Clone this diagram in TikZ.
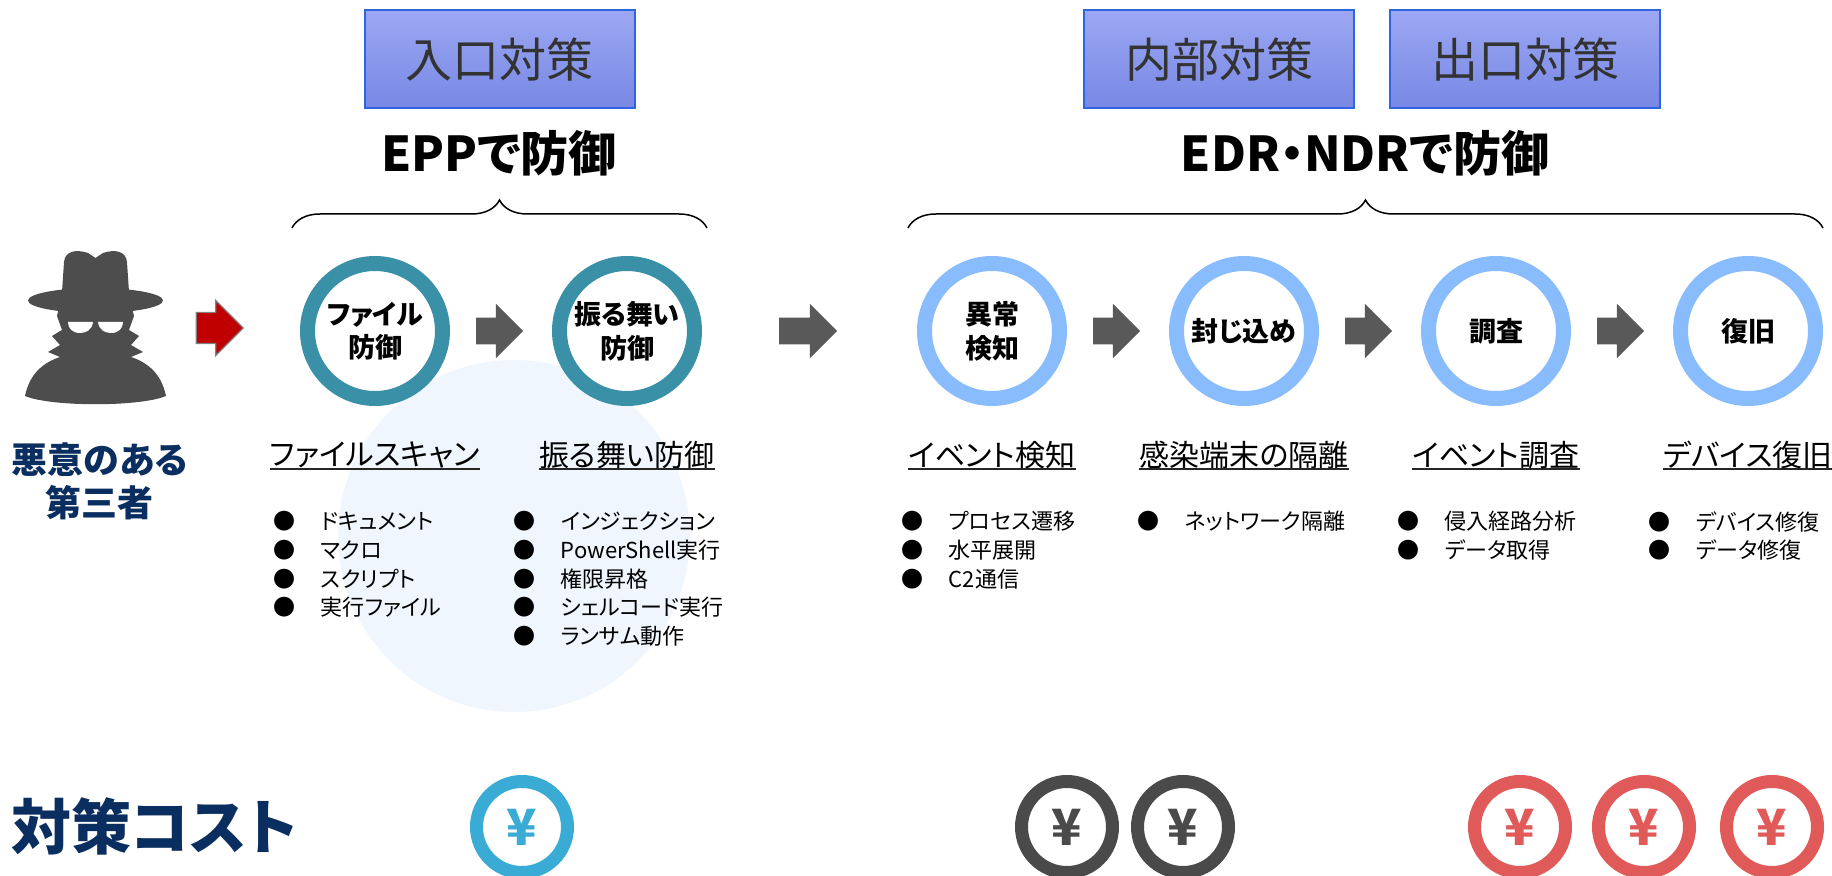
\documentclass[tikz,border=0pt]{standalone}
\usepackage{fontspec}
\setmainfont{Noto Sans CJK JP}[RawFeature=+palt]
\newfontfamily\headfont{Noto Sans CJK JP}
\usepackage{tikz}
\usetikzlibrary{
  arrows.meta,
  positioning,
  calc,
  shapes.arrows,
  decorations.pathreplacing
}
\definecolor{tagtop}{HTML}{9CA8F3}
\definecolor{tagbot}{HTML}{7787E4}
\definecolor{tagline}{HTML}{2F66E0}
\definecolor{tagtext}{HTML}{333333}
\definecolor{epp}{HTML}{3A90A6}
\definecolor{edr}{HTML}{88BCFC}
\definecolor{blob}{HTML}{EFF6FD}
\definecolor{arrgray}{HTML}{595959}
\definecolor{navy}{HTML}{0A2E5F}
\definecolor{spygray}{HTML}{4D4D4D}
\definecolor{alertred}{HTML}{C00000}
\definecolor{costlow}{HTML}{3AABD5}
\definecolor{costmid}{HTML}{4A4A4A}
\definecolor{costhigh}{HTML}{E05A5A}
\newcommand{\itembul}{\makebox[23.75pt][l]{●}}

\begin{document}
\begin{tikzpicture}[x=0.5pt, y=-0.5pt, node distance=126pt,
  tagbox/.style={draw=tagline, line width=1pt, top color=tagtop, bottom color=tagbot,
    minimum width=135pt, minimum height=49pt, inner sep=0pt, text=tagtext,
    font=\headfont\fontsize{23.5}{28}\selectfont},
  headline/.style={inner sep=0pt, font=\bfseries\fontsize{24}{28}\selectfont},
  brace/.style={decorate, decoration={brace, amplitude=14pt}, line width=0.75pt},
  ring/.style={circle, draw, line width=7.5pt, fill=white, minimum size=67.5pt,
    inner sep=0pt, align=center, font=\bfseries\fontsize{13.5}{16.85}\selectfont},
  blockarr/.style={single arrow, fill=arrgray, minimum height=23.5pt, xshift=-4pt,
    single arrow head extend=7pt, inner xsep=0pt, inner ysep=6.5pt},
  lbl/.style={inner sep=0pt, font=\fontsize{15}{18}\selectfont},
  uline/.style={line width=1pt, black!85},
  items/.style={inner sep=0pt, anchor=north west, align=left, font=\fontsize{11}{14.35}\selectfont},
  coin/.style={circle, line width=6.5pt, minimum size=45.5pt, inner sep=0pt, fill=white,
    font=\bfseries\fontsize{25}{25}\selectfont}]
\useasboundingbox (0,0) rectangle (1832,876);

\fill[blob] (514,536) circle (88pt);

\node[tagbox] (T1) at (499.5,59.5) {入口対策};
\node[tagbox] (T2) at (1219,59.5) {内部対策};
\node[tagbox] (T3) at (1525,59.5) {出口対策};
\node[headline] (H1) at (499,153) {EPPで防御};
\node[headline] (H2) at (1365,153) {EDR・NDRで防御};
\draw[brace] (292,228) -- (707,228);
\draw[brace] (908,228) -- (1823,228);

% attacker silhouette
\begin{scope}[spygray]
\fill (25,396) .. controls (30,372) and (45,362) .. (60,357) -- (48,352) -- (60,345)
  -- (52,336) -- (62,330) -- (57,316) -- (60,304) -- (131,304) -- (134,316)
  -- (129,330) -- (139,336) -- (131,345) -- (143,352) -- (131,357)
  .. controls (146,362) and (161,372) .. (166,396)
  .. controls (140,407) and (51,407) .. (25,396) -- cycle;
\fill (95.5,300.5) ellipse (33.75pt and 6.25pt);
\fill (62,292) -- (64,262) .. controls (65,251) and (76,249) .. (88,253) -- (95.5,258)
  -- (103,253) .. controls (115,249) and (126,251) .. (127,262) -- (129,292) -- cycle;
\end{scope}
\fill[white] (68,322) -- (93,322) .. controls (92,330) and (86,333) .. (80,333)
  .. controls (72,333) and (68,328) .. cycle;
\fill[white] (98,322) -- (123,322) .. controls (123,328) and (119,333) .. (111,333)
  .. controls (105,333) and (99,330) .. cycle;
\node[inner sep=0pt, align=center, text=navy, font=\bfseries\fontsize{18}{21.5}\selectfont]
  (who) at (100,481) {悪意のある\\第三者};

\node[single arrow, fill=alertred, draw=black!50, line width=0.6pt, minimum height=23.5pt,
  single arrow head extend=6pt, inner xsep=0pt, inner ysep=7.5pt] (go) at (212,328) {};

\node[ring, draw=epp] (E1) at (375,331) {ファイル\\防御};
\node[ring, draw=epp, right of=E1] (E2) {振る舞い\\防御};
\node[ring, draw=edr] (R1) at (992,331) {異常\\検知};
\node[ring, draw=edr, right of=R1] (R2) {封じ込め};
\node[ring, draw=edr, right of=R2] (R3) {調査};
\node[ring, draw=edr, right of=R3] (R4) {復旧};

\node[blockarr] (a1) at ($(E1)!0.5!(E2)$) {};
\node[blockarr, minimum height=29pt] (a2) at ($(E2)!0.5!(R1)$) {};
\node[blockarr] (a3) at ($(R1)!0.5!(R2)$) {};
\node[blockarr] (a4) at ($(R2)!0.5!(R3)$) {};
\node[blockarr] (a5) at ($(R3)!0.5!(R4)$) {};

\node[lbl, below of=E1, node distance=62pt] (L1) {ファイルスキャン};
\node[lbl, below of=E2, node distance=62pt] (L2) {振る舞い防御};
\node[lbl, below of=R1, node distance=62pt] (L3) {イベント検知};
\node[lbl, below of=R2, node distance=62pt] (L4) {感染端末の隔離};
\node[lbl, below of=R3, node distance=62pt] (L5) {イベント調査};
\node[lbl, below of=R4, node distance=62pt] (L6) {デバイス復旧};
\foreach \n in {L1,L2,L3,L4,L5,L6}
  \draw[uline] (\n.south west) -- (\n.south east);

\node[items] (I1) at (273,511) {\itembul ドキュメント\\\itembul マクロ\\\itembul スクリプト\\\itembul 実行ファイル};
\node[items] (I2) at (513,511) {\itembul インジェクション\\\itembul PowerShell実行\\\itembul 権限昇格\\\itembul シェルコード実行\\\itembul ランサム動作};
\node[items] (I3) at (901,511) {\itembul プロセス遷移\\\itembul 水平展開\\\itembul C2通信};
\node[items] (I4) at (1137,511) {\itembul ネットワーク隔離};
\node[items] (I5) at (1397,511) {\itembul 侵入経路分析\\\itembul データ取得};
\node[items] (I6) at (1648,511) {\itembul デバイス修復\\\itembul データ修復};

\node[inner sep=0pt, anchor=west, text=navy, font=\bfseries\fontsize{30}{34}\selectfont]
  (cost) at (11,826) {対策コスト};
\node[coin, draw=costlow, text=costlow] (Y1) at (522,827) {¥};
\node[coin, draw=costmid, text=costmid] (Y2) at (1067,827) {¥};
\node[coin, draw=costmid, text=costmid] (Y3) at (1183,827) {¥};
\node[coin, draw=costhigh, text=costhigh] (Y4) at (1520,827) {¥};
\node[coin, draw=costhigh, text=costhigh] (Y5) at (1644,827) {¥};
\node[coin, draw=costhigh, text=costhigh] (Y6) at (1772,827) {¥};
\end{tikzpicture}
\end{document}
